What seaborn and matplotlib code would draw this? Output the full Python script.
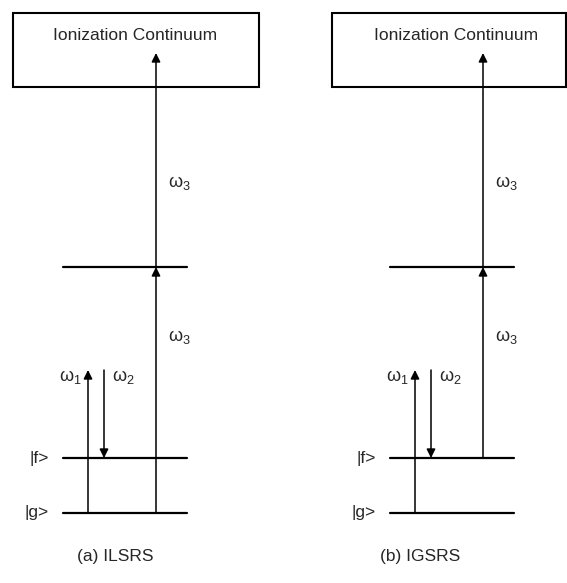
import pandas as pd
import numpy as np
import matplotlib.pyplot as plt
from matplotlib.patches import Rectangle
import seaborn as sns

# set style of visualization
sns.set_style("white")
plt.rcParams['font.family'] = ['Liberation Sans', 'DejaVu Sans']
plt.rcParams['mathtext.fontset'] = 'custom'
plt.rcParams['mathtext.rm'] = 'Liberation Sans'
plt.rcParams['mathtext.it'] = 'Liberation Sans'


# =============================================================================
# Data: energy levels and transitions of the two schemes
# =============================================================================

panel_names = ["(a) ILSRS", "(b) IGSRS"]
level_names = ["|g>", "|f>", ""]
level_energy = [0, 55, 246]          # g, f, intermediate
continuum_energy = 426               # bottom of the ionization continuum
continuum_top = 500
ion_arrow_tip = 460
raman_top = 143

# transitions: (panel, label, start energy, end energy)
trans_panel = [0, 0, 0, 0, 1, 1, 1, 1]
trans_label = ["ω_1", "ω_2", "ω_3", "ω_3", "ω_1", "ω_2", "ω_3", "ω_3"]
trans_start = [0, raman_top, 0, 246, 0, raman_top, 55, 246]
trans_end = [raman_top, 55, 246, ion_arrow_tip, raman_top, 55, 246, ion_arrow_tip]


# =============================================================================
# Layout
# =============================================================================

panel_shift = [0, 327]
level_x = (63, 187)
trans_x = {"ω_1": 88, "ω_2": 104, "ω_3": 156}
box_x = [(13, 259), (332, 566)]
title_x = [135, 456]
caption_x = [115, 420]

fig = plt.figure(figsize=(5.67, 5.83), dpi=100)
ax = fig.add_axes([0, 0, 1, 1])

# level lines through seaborn
rows = []
for p, shift in enumerate(panel_shift):
    for i, e in enumerate(level_energy):
        for x in level_x:
            rows.append({"x": x + shift, "E": e, "seg": f"{p}-{i}"})
levels = pd.DataFrame(rows)
sns.lineplot(data=levels, x="x", y="E", units="seg", estimator=None,
             color="black", lw=1.6, ax=ax, sort=False)

for p, shift in enumerate(panel_shift):
    # continuum box
    x0, x1 = box_x[p]
    ax.add_patch(Rectangle((x0, continuum_energy), x1 - x0, continuum_top - continuum_energy,
                           fill=False, ec="black", lw=1.5))
    ax.text(title_x[p], 478, "Ionization Continuum", ha="center", va="center", fontsize=12.5)

    # level labels
    for name, e in zip(level_names[:2], level_energy[:2]):
        ax.text(level_x[0] + shift - 14, e, name, ha="right", va="center", fontsize=12.5)

    ax.text(caption_x[p], -44, panel_names[p], ha="center", va="center", fontsize=12.5)

for p, lab, e0, e1 in zip(trans_panel, trans_label, trans_start, trans_end):
    x = trans_x[lab] + panel_shift[p]
    ax.annotate("", xy=(x, e1), xytext=(x, e0),
                arrowprops=dict(arrowstyle="-|>", lw=1.1, color="black",
                                mutation_scale=13, shrinkA=0, shrinkB=0))
    txt = r"$\mathregular{" + lab + "}$"
    if lab == "ω_1":
        ax.text(x - 6, 136, txt, ha="right", va="center", fontsize=13)
    elif lab == "ω_2":
        ax.text(x + 8, 136, txt, ha="left", va="center", fontsize=13)
    else:
        # upper label for the ionizing step, lower label for the first step
        label_e = 330 if e0 >= 246 else 176
        ax.text(x + 12, label_e, txt, ha="left", va="center", fontsize=13)

ax.set_xlim(0, 567)
ax.set_ylim(-70, 513)
ax.axis("off")

plt.savefig("out.png", dpi=100)
